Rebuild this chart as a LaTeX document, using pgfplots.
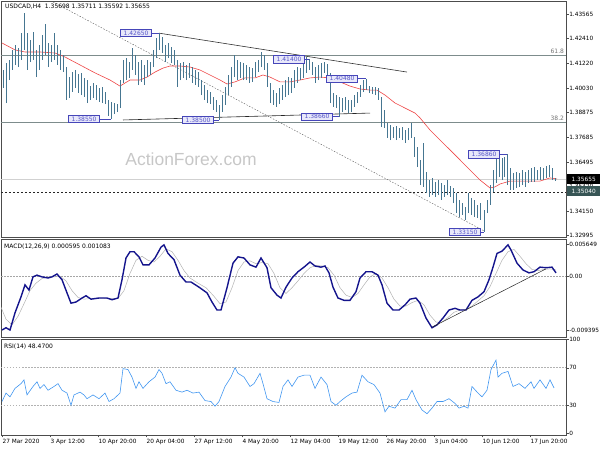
\documentclass[border=0pt]{standalone}
\usepackage{fontspec}
\setmainfont{DejaVu Sans}
\newfontfamily\wmfont{Liberation Sans}
\usepackage{pgfplots}
\usepackage{pgfplotstable}
\pgfplotsset{compat=1.18}

\definecolor{barblue}{RGB}{70,118,145}
\definecolor{mared}{RGB}{238,70,70}
\definecolor{fibgray}{RGB}{125,140,140}
\definecolor{lblfill}{RGB}{232,232,250}
\definecolor{lbldraw}{RGB}{70,70,185}
\definecolor{lbltext}{RGB}{85,85,200}
\definecolor{macdblue}{RGB}{20,20,140}
\definecolor{rsiblue}{RGB}{65,150,240}
\definecolor{slate}{RGB}{55,85,85}

\newcommand{\sm}{\fontsize{6}{7}\selectfont}
\newcommand{\tk}{\fontsize{5.8}{7}\selectfont}

% H4 bars: x (screen position), low, high
\pgfplotstableread{
x lo hi
3 1.4003 1.4089
6 1.3931 1.4122
9 1.4041 1.4137
12 1.4089 1.4185
15 1.4113 1.4208
18 1.4103 1.4194
21 1.4137 1.4266
24 1.4185 1.4361
27 1.4089 1.4266
30 1.4127 1.4232
33 1.4137 1.4271
36 1.4055 1.4185
39 1.4089 1.4208
42 1.4137 1.4256
45 1.4161 1.4309
48 1.4103 1.4218
51 1.4127 1.4208
54 1.4137 1.4266
57 1.4113 1.4208
60 1.4089 1.4185
63 1.4079 1.4161
66 1.3946 1.4103
69 1.3955 1.4055
72 1.3984 1.4079
75 1.4003 1.4089
78 1.3979 1.4070
81 1.3969 1.4075
84 1.3960 1.4051
87 1.3931 1.4041
90 1.3946 1.4012
93 1.3955 1.4027
96 1.3946 1.4017
99 1.3936 1.4003
102 1.3931 1.4008
105 1.3926 1.3984
108 1.3869 1.3946
111 1.3855 1.3936
114 1.3879 1.3931
117 1.3888 1.3926
120 1.3907 1.4041
123 1.4027 1.4137
126 1.4041 1.4146
129 1.4051 1.4127
132 1.4089 1.4194
135 1.4065 1.4161
138 1.4017 1.4127
141 1.4032 1.4137
144 1.4017 1.4113
147 1.4055 1.4137
150 1.4065 1.4127
153 1.4103 1.4185
156 1.4146 1.4242
159 1.4185 1.4265
162 1.4170 1.4247
165 1.4127 1.4208
168 1.4146 1.4218
171 1.4122 1.4199
174 1.4113 1.4185
177 1.4008 1.4137
180 1.4041 1.4122
183 1.4051 1.4127
186 1.4041 1.4113
189 1.4051 1.4122
192 1.4027 1.4103
195 1.4017 1.4089
198 1.4008 1.4079
201 1.3969 1.4041
204 1.3946 1.4017
207 1.3931 1.3993
210 1.3926 1.3984
213 1.3898 1.3960
216 1.3888 1.3946
219 1.3850 1.3922
222 1.3888 1.3969
225 1.3922 1.4008
228 1.3969 1.4065
231 1.4008 1.4103
234 1.4055 1.4161
237 1.4041 1.4137
240 1.4051 1.4127
243 1.4041 1.4122
246 1.4041 1.4113
249 1.4027 1.4103
252 1.4032 1.4098
255 1.4055 1.4127
258 1.4079 1.4137
261 1.4103 1.4175
264 1.4089 1.4161
267 1.4008 1.4122
270 1.3931 1.4027
273 1.3922 1.3993
276 1.3912 1.3979
279 1.3926 1.4003
282 1.3946 1.4017
285 1.3960 1.4041
288 1.3969 1.4055
291 1.3979 1.4051
294 1.4003 1.4089
297 1.4027 1.4103
300 1.4041 1.4098
303 1.4051 1.4127
306 1.4075 1.4151
309 1.4089 1.4140
312 1.4065 1.4127
315 1.4027 1.4103
318 1.4041 1.4113
321 1.4051 1.4122
324 1.4075 1.4127
327 1.4060 1.4118
330 1.3931 1.4075
333 1.3912 1.3979
336 1.3907 1.3969
339 1.3866 1.3960
342 1.3888 1.3955
345 1.3898 1.3960
348 1.3883 1.3946
351 1.3888 1.3946
354 1.3912 1.3969
357 1.3931 1.3984
360 1.3960 1.4017
363 1.3984 1.4041
366 1.3993 1.4048
369 1.3979 1.4012
372 1.3974 1.4008
375 1.3969 1.4008
378 1.3946 1.4003
381 1.3816 1.3960
384 1.3812 1.3898
387 1.3764 1.3836
390 1.3754 1.3826
393 1.3764 1.3816
396 1.3754 1.3821
399 1.3764 1.3812
402 1.3754 1.3816
405 1.3740 1.3802
408 1.3754 1.3812
411 1.3764 1.3836
414 1.3673 1.3769
417 1.3625 1.3721
420 1.3539 1.3659
423 1.3530 1.3740
426 1.3501 1.3601
429 1.3482 1.3563
432 1.3491 1.3573
435 1.3482 1.3554
438 1.3491 1.3563
441 1.3468 1.3549
444 1.3482 1.3539
447 1.3491 1.3563
450 1.3482 1.3534
453 1.3453 1.3525
456 1.3405 1.3501
459 1.3386 1.3468
462 1.3396 1.3453
465 1.3372 1.3434
468 1.3405 1.3501
471 1.3396 1.3477
474 1.3386 1.3468
477 1.3382 1.3444
480 1.3372 1.3453
484 1.3315 1.3420
487 1.3405 1.3468
490 1.3444 1.3539
493 1.3506 1.3611
496 1.3549 1.3673
499 1.3577 1.3675
502 1.3563 1.3668
504 1.3577 1.3673
507 1.3539 1.3686
510 1.3515 1.3620
513 1.3515 1.3597
516 1.3525 1.3601
519 1.3530 1.3597
522 1.3539 1.3611
525 1.3530 1.3601
528 1.3549 1.3611
531 1.3554 1.3620
534 1.3554 1.3625
537 1.3563 1.3611
540 1.3563 1.3625
543 1.3563 1.3620
546 1.3573 1.3630
549 1.3577 1.3635
552 1.3563 1.3620
555 1.3559 1.3571
}\bars

\pgfplotsset{
  panel/.style={scale only axis, width=565pt, xmin=1, xmax=566,
    axis line style={black!70}, xtick=\empty,
    ytick pos=right, yticklabel pos=right, tick align=outside,
    major tick length=2.5pt, tick style={black!70},
    tick label style={font=\tk, black},
    yticklabel style={inner xsep=0.6pt},
    scaled y ticks=false,
    /pgf/number format/assume math mode=true},
}
\tikzset{
  lbl/.style={draw=lbldraw, fill=lblfill, text=lbltext, font=\sm,
    inner xsep=3.2pt, inner ysep=1.3pt, anchor=east, line width=0.6pt},
}

\begin{document}
\begin{tikzpicture}
\path[use as bounding box] (0,0) rectangle (600pt,450pt);

% ---------- price window ----------
\begin{axis}[panel, at={(1pt,449pt)}, anchor=north west, height=236pt,
  ymin=1.32906, ymax=1.44187,
  ytick={1.43565,1.42410,1.41220,1.40030,1.38875,1.37685,1.36495,1.35320,1.34150,1.32995},
  yticklabels={1.43565,1.42410,1.41220,1.40030,1.38875,1.37685,1.36495,1.35320,1.34150,1.32995}]

\node[font=\wmfont\fontsize{17.5}{18}\selectfont, text=black!22] at (axis cs:191,1.3663) {ActionForex.com};

\addplot[fibgray, line width=0.7pt] coordinates {(1,1.4161) (566,1.4161)};
\addplot[fibgray, line width=0.7pt] coordinates {(1,1.3840) (566,1.3840)};
\node[anchor=south east, font=\sm, text=black!55, inner sep=0.8pt] at (axis cs:565,1.4161) {61.8};
\node[anchor=south east, font=\sm, text=black!55, inner sep=0.8pt] at (axis cs:565,1.3840) {38.2};
\addplot[black!18, line width=0.7pt] coordinates {(1,1.35655) (566,1.35655)};
\addplot[black!85, dash pattern=on 2pt off 2pt] coordinates {(1,1.3504) (566,1.3504)};

\addplot[black!80, line width=0.6pt] coordinates {(159,1.4265) (407,1.4079)};
\addplot[black!85, line width=0.6pt] coordinates {(123,1.3850) (370,1.3883)};
\addplot[black!65, dash pattern=on 1.5pt off 1.5pt] coordinates {(53,1.4414) (484,1.3320)};

\addplot[mared, line width=0.6pt] coordinates {
(2,1.4218) (15,1.4185) (25,1.4175) (40,1.4175) (55,1.4170) (65,1.4151)
(80,1.4113) (95,1.4075) (110,1.4041) (120,1.4012) (130,1.4041) (140,1.4041)
(147,1.4055) (155,1.4079) (163,1.4098) (170,1.4108) (180,1.4108) (190,1.4103)
(200,1.4089) (210,1.4065) (220,1.4041) (227,1.4022) (235,1.4032) (245,1.4051)
(255,1.4051) (263,1.4065) (270,1.4055) (280,1.4032) (290,1.4032) (300,1.4041)
(310,1.4051) (320,1.4055) (330,1.4051) (340,1.4032) (350,1.4012) (360,1.3998)
(370,1.3993) (377,1.3993) (385,1.3969) (395,1.3931) (405,1.3907) (415,1.3883)
(420,1.3860) (430,1.3802) (440,1.3754) (450,1.3707) (460,1.3659) (470,1.3611)
(480,1.3563) (490,1.3525) (495,1.3530) (500,1.3544) (510,1.3558) (520,1.3558)
(530,1.3558) (540,1.3558) (550,1.3573) (557,1.3568)};

\addplot[draw=none, mark=none, forget plot,
  error bars/.cd, y dir=plus, y explicit, error mark=none,
  error bar style={draw=barblue, line width=0.9pt}]
  table[x=x, y=lo, y error expr=\thisrow{hi}-\thisrow{lo}] {\bars};

% price labels
\node[lbl] (a) at (axis cs:152,1.4265) {1.42650};
\draw[lbldraw, line width=0.6pt] (a.east) -- (axis cs:159,1.4265);
\node[lbl] (b) at (axis cs:100,1.3855) {1.38550};
\draw[lbldraw, line width=0.6pt] (b.east) -- (axis cs:111,1.3855);
\node[lbl] (c) at (axis cs:214,1.3850) {1.38500};
\draw[lbldraw, line width=0.6pt] (c.east) -- (axis cs:219,1.3850);
\node[lbl] (d) at (axis cs:305,1.4140) {1.41400};
\draw[lbldraw, line width=0.6pt] (d.east) -- (axis cs:309,1.4140);
\node[lbl] (e) at (axis cs:358,1.4048) {1.40480};
\draw[lbldraw, line width=0.6pt] (e.east) -- (axis cs:366,1.4048);
\node[lbl] (f) at (axis cs:333,1.3866) {1.38660};
\draw[lbldraw, line width=0.6pt] (f.east) -- (axis cs:339,1.3866);
\node[lbl] (g) at (axis cs:500,1.3686) {1.36860};
\draw[lbldraw, line width=0.6pt] (g.east) -- (axis cs:507,1.3686);
\node[lbl] (h) at (axis cs:481,1.3315) {1.33150};
\draw[lbldraw, line width=0.6pt] (h.east) -- (axis cs:484,1.3315);

\node[anchor=west, font=\sm, inner sep=0pt] at (axis cs:5,1.4390)
  {USDCAD,H4\ \ 1.35698 1.35711 1.35592 1.35655};
\end{axis}

% ---------- MACD window ----------
\begin{axis}[panel, at={(1pt,211pt)}, anchor=north west, height=98pt,
  ymin=-0.010618, ymax=0.006524,
  ytick={-0.009395,0,0.005649}, yticklabels={-0.009395,0.00,0.005649}]
\addplot[black!35, dash pattern=on 1.5pt off 1.5pt] coordinates {(1,0) (566,0)};
\addplot[black!30, line width=0.5pt] coordinates {
(0,-0.0050) (6,-0.0075) (12,-0.0085) (18,-0.0070) (24,-0.0048) (30,-0.0025)
(36,-0.0012) (42,-0.0004) (48,-0.0001) (54,-0.0001) (60,0.0000) (66,-0.0008)
(72,-0.0025) (78,-0.0037) (84,-0.0040) (90,-0.0039) (100,-0.0038) (110,-0.0039)
(118,-0.0039) (124,-0.0025) (130,0.0005) (136,0.0028) (142,0.0035) (148,0.0028)
(154,0.0025) (160,0.0035) (166,0.0048) (172,0.0043) (178,0.0028) (184,0.0010)
(190,-0.0003) (198,-0.0012) (206,-0.0020) (214,-0.0035) (220,-0.0048) (226,-0.0045)
(232,-0.0020) (238,0.0010) (244,0.0025) (250,0.0027) (256,0.0022) (262,0.0024)
(268,0.0022) (274,0.0005) (280,-0.0020) (286,-0.0030) (292,-0.0020) (298,-0.0008)
(304,0.0005) (310,0.0015) (316,0.0019) (322,0.0018) (328,0.0015) (334,0.0002)
(340,-0.0020) (346,-0.0033) (352,-0.0037) (358,-0.0030) (364,-0.0015) (370,-0.0001)
(376,0.0005) (382,-0.0003) (388,-0.0020) (394,-0.0040) (400,-0.0052) (406,-0.0052)
(412,-0.0046) (418,-0.0042) (424,-0.0050) (430,-0.0068) (436,-0.0080) (442,-0.0080)
(448,-0.0072) (454,-0.0063) (460,-0.0059) (466,-0.0058) (472,-0.0052) (478,-0.0043)
(484,-0.0034) (490,-0.0018) (496,0.0005) (502,0.0028) (508,0.0043) (514,0.0047)
(520,0.0035) (526,0.0022) (532,0.0012) (538,0.0010) (544,0.0012) (550,0.0013)
(556,0.0011)};
\addplot[macdblue, line width=1.4pt] coordinates {
(2,-0.0094) (6,-0.0090) (10,-0.0094) (15,-0.0064) (21,-0.0036) (25,-0.0015)
(29,-0.0024) (33,-0.0001) (37,0.0002) (42,-0.0001) (48,-0.0003) (52,-0.0001)
(57,0.0004) (62,-0.0006) (67,-0.0029) (71,-0.0047) (76,-0.0045) (82,-0.0038)
(86,-0.0034) (91,-0.0040) (99,-0.0038) (107,-0.0038) (112,-0.0041) (118,-0.0038)
(122,-0.0006) (126,0.0032) (130,0.0043) (134,0.0043) (139,0.0034) (143,0.0020)
(149,0.0020) (155,0.0032) (161,0.0051) (164,0.0055) (168,0.0040) (174,0.0029)
(180,0.0002) (186,-0.0010) (191,-0.0010) (199,-0.0019) (207,-0.0029) (212,-0.0045)
(217,-0.0059) (221,-0.0059) (227,-0.0020) (233,0.0023) (238,0.0034) (244,0.0032)
(250,0.0020) (256,0.0016) (261,0.0032) (267,0.0015) (271,-0.0020) (277,-0.0033)
(281,-0.0038) (286,-0.0019) (292,-0.0003) (298,0.0008) (304,0.0016) (310,0.0025)
(315,0.0018) (321,0.0016) (325,0.0018) (329,0.0006) (333,-0.0019) (338,-0.0038)
(344,-0.0042) (350,-0.0042) (356,-0.0027) (360,-0.0003) (366,0.0008) (372,0.0008)
(378,0.0002) (382,-0.0015) (387,-0.0047) (393,-0.0059) (399,-0.0059) (405,-0.0050)
(410,-0.0040) (416,-0.0038) (420,-0.0047) (426,-0.0073) (432,-0.0090) (437,-0.0085)
(443,-0.0073) (449,-0.0059) (455,-0.0056) (460,-0.0059) (466,-0.0059) (472,-0.0042)
(478,-0.0036) (484,-0.0027) (489,-0.0006) (493,0.0016) (497,0.0040) (502,0.0044)
(508,0.0055) (511,0.0046) (517,0.0023) (523,0.0011) (529,0.0006) (534,0.0008)
(540,0.0016) (546,0.0015) (552,0.0016) (556,0.0006)};
\addplot[black!85, line width=0.5pt] coordinates {(432,-0.0089) (546,0.0013)};
\node[anchor=west, font=\sm, inner sep=0pt] at (axis cs:4,0.00512) {MACD(12,26,9) 0.000595 0.001083};
\end{axis}

% ---------- RSI window ----------
\begin{axis}[panel, at={(1pt,111pt)}, anchor=north west, height=96pt,
  ymin=-1.6, ymax=100.5,
  ytick={0,30,70,100}, yticklabels={0,30,70,100},
  xtick={2,50,98,146,194,242,290,338,386,434,482,530},
  xticklabels={27 Mar 2020,3 Apr 12:00,10 Apr 20:00,20 Apr 04:00,27 Apr 12:00,4 May 20:00,12 May 04:00,19 May 12:00,26 May 20:00,3 Jun 04:00,10 Jun 12:00,17 Jun 20:00},
  xtick pos=left,
  xticklabel style={anchor=north west, inner xsep=0.5pt, inner ysep=1.5pt}]
\addplot[black!30, dash pattern=on 1.5pt off 1.5pt] coordinates {(1,70) (566,70)};
\addplot[black!30, dash pattern=on 1.5pt off 1.5pt] coordinates {(1,30) (566,30)};
\addplot[rsiblue, line width=0.6pt] coordinates {
(2,34) (6,43) (10,39) (15,48) (21,53) (24,57) (27,41) (33,50) (37,55) (40,48)
(44,52) (48,46) (54,50) (58,53) (62,46) (67,43) (71,30) (74,41) (80,44) (84,41)
(87,37) (93,41) (99,37) (105,43) (109,34) (114,37) (120,43) (123,69) (128,68)
(132,60) (136,48) (139,55) (143,48) (149,55) (155,60) (159,68) (162,64) (166,53)
(170,55) (176,46) (182,44) (187,46) (193,43) (199,44) (205,35) (211,34) (215,29)
(219,34) (225,50) (231,60) (235,70) (238,64) (244,60) (250,50) (254,53) (260,64)
(263,53) (267,37) (273,34) (279,33) (283,50) (288,57) (292,50) (298,60) (304,62)
(310,62) (315,48) (321,60) (327,52) (331,34) (336,30) (340,34) (346,39) (352,43)
(357,44) (362,62) (368,55) (374,52) (380,43) (385,23) (389,29) (395,27) (401,36)
(407,36) (412,46) (416,36) (422,25) (427,21) (432,27) (437,34) (443,34) (449,37)
(455,32) (459,27) (464,29) (468,27) (472,50) (478,43) (482,39) (487,46) (491,68)
(496,78) (498,60) (502,64) (508,66) (513,50) (519,53) (525,48) (531,55) (534,48)
(540,57) (546,48) (550,57) (554,48.47)};
\node[anchor=west, font=\sm, inner sep=0pt] at (axis cs:4,92) {RSI(14) 48.4700};
\end{axis}

% highlighted price tags on the right scale
\node[fill=black, text=white, font=\tk, anchor=west, minimum width=33pt, minimum height=10pt, inner sep=0pt] at (567pt,271pt) {1.35655};
\node[fill=slate, text=white, font=\tk, anchor=west, minimum width=33pt, minimum height=10pt, inner sep=0pt] at (567pt,259pt) {1.35040};
\end{tikzpicture}
\end{document}
